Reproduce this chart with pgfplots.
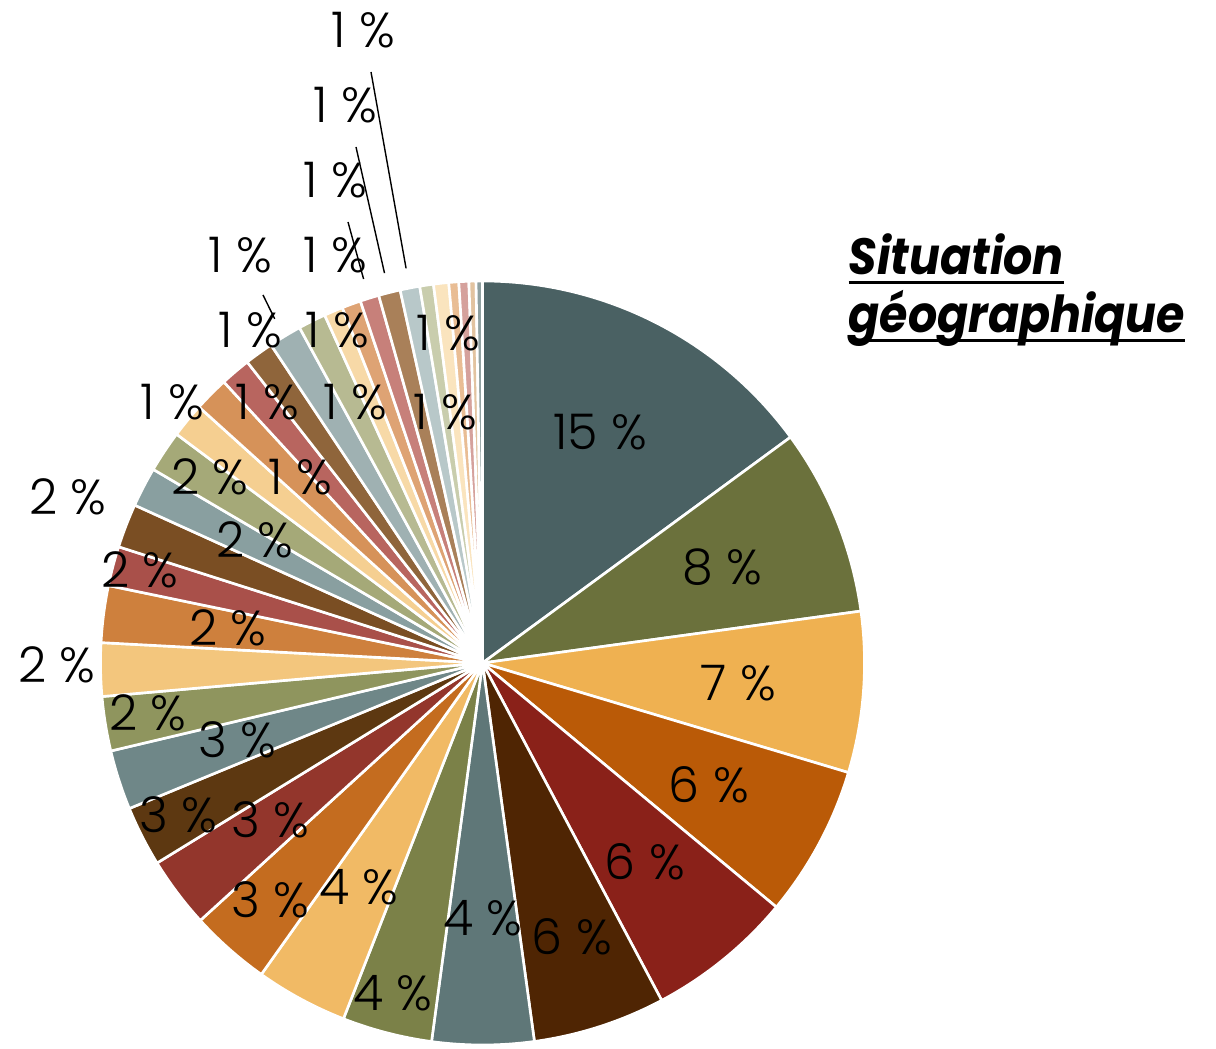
\documentclass[border=0pt]{standalone}
\usepackage{pgfplots}
\pgfplotsset{compat=1.18}
\usepackage{pgfplotstable}
\usepackage{graphicx}
\usepackage{fontspec}
\setmainfont{Poppins}
\newfontfamily\labfont{Poppins}[UprightFont={* Light}]

% share of each zone (%), slice colour, label centre, leader start (0 = no leader)
\pgfplotstableread{
v    col    lx  ly  sx  sy
14.93 4A6163 600 432 0   0
7.9  6B713C 722 567 0   0
6.8  EFB151 738 683 0   0
6.4  BA5A07 709 785 0   0
6.2  8A2119 645 862 0   0
5.6  4F2503 572 937 0   0
4.3  5F7778 483 918 0   0
3.8  7B8148 393 993 0   0
3.9  F1BA65 359 887 0   0
3.4  C46C1F 270 900 0   0
3.0  93362C 270 820 0   0
2.55 5D3811 178 815 0   0
2.52 6F8788 237 740 0   0
2.3  8F955E 148 713 0   0
2.25 F3C67D 57  665 0   0
2.4  CE803D 228 628 0   0
1.67 A9504A 140 570 0   0
1.86 7A4E23 68  497 0   0
1.68 899FA0 255 540 0   0
1.76 A5A978 210 477 0   0
1.47 F5CF91 172 402 0   0
1.47 D69259 300 477 0   0
1.28 B8655F 267 402 0   0
1.22 8F653B 250 330 0   0
1.39 9FB1B2 240 255 263 295
1.17 B7BA92 355 402 0   0
0.8  F7D9A7 337 330 0   0
0.8  DEA374 335 255 0   0
0.8  C7807A 335 180 348 222
0.92 A98059 345 105 356 147
0.83 B8C8C9 363 30  371 72
0.58 C9CDAD 445 412 0   0
0.64 FAE4BE 448 333 0   0
0.42 E9BD94 0   0   0   0
0.42 D5A19C 0   0   0   0
0.3  E2C3A0 0   0   0   0
0.27 8FA0A0 0   0   0   0
}\pietable

\newcommand\ul[1]{\setbox0=\hbox{#1}\rlap{\rule[-0.095cm]{\wd0}{0.03cm}}\box0}
\newcommand\titletext[1]{\scalebox{0.9}[1]{\ul{#1}}}

\begin{document}
\begin{tikzpicture}
\begin{axis}[
  scale only axis, width=12.16cm, height=10.49cm,
  xmin=0, xmax=1216, ymin=0, ymax=1049, y dir=reverse,
  hide axis, clip=false]
\addplot[draw=none] coordinates {(0,0) (1216,1049)};
\pgfplotsextra{
  \path (axis cs:0,0) rectangle (axis cs:1216,1049);
  \pgfplotstablegetrowsof{\pietable}
  \pgfmathtruncatemacro\lastrow{\pgfplotsretval-1}
  % wedges, clockwise from twelve o'clock
  \def\acc{0}
  \pgfplotsforeachungrouped \i in {0,...,\lastrow}{
    \pgfplotstablegetelem{\i}{v}\of\pietable \edef\val{\pgfplotsretval}
    \pgfplotstablegetelem{\i}{col}\of\pietable \edef\col{\pgfplotsretval}
    \definecolor{slc}{HTML}{\col}
    \pgfmathsetmacro\aS{90-3.6*\acc}
    \pgfmathsetmacro\aE{90-3.6*(\acc+\val)}
    \fill[slc, draw=white, line width=0.75pt, line join=round]
      (axis cs:482.5,663) -- ++(\aS:3.82cm)
      arc[start angle=\aS, end angle=\aE, radius=3.82cm] -- cycle;
    \pgfmathsetmacro\acc{\acc+\val}
  }
  % value labels and leader lines
  \def\acc{0}
  \pgfplotsforeachungrouped \i in {0,...,\lastrow}{
    \pgfplotstablegetelem{\i}{v}\of\pietable \edef\val{\pgfplotsretval}
    \pgfplotstablegetelem{\i}{lx}\of\pietable \edef\lx{\pgfplotsretval}
    \pgfplotstablegetelem{\i}{ly}\of\pietable \edef\ly{\pgfplotsretval}
    \pgfplotstablegetelem{\i}{sx}\of\pietable \edef\sx{\pgfplotsretval}
    \pgfplotstablegetelem{\i}{sy}\of\pietable \edef\sy{\pgfplotsretval}
    \pgfmathtruncatemacro\pct{round(\val)}
    \pgfmathsetmacro\mid{3.6*(\acc+\val/2)}
    \ifnum\pct>0
      \node[font=\labfont\fontsize{14}{16}\selectfont, inner sep=0pt]
        at (axis cs:\lx,\ly) {\pct~\%};
    \fi
    \pgfmathtruncatemacro\hasleader{\sx>0 ? 1 : 0}
    \ifnum\hasleader=1
      \pgfmathsetmacro\ex{482.5+402*sin(\mid)}
      \pgfmathsetmacro\ey{663-402*cos(\mid)}
      \draw[black, line width=0.4pt] (axis cs:\sx,\sy) -- (axis cs:\ex,\ey);
    \fi
    \pgfmathsetmacro\acc{\acc+\val}
  }
  % title
  \node[anchor=base west, inner sep=0pt,
        font=\fontsize{14.5}{18}\selectfont\bfseries\itshape]
    at (axis cs:848,275) {\titletext{Situation}};
  \node[anchor=base west, inner sep=0pt,
        font=\fontsize{14.5}{18}\selectfont\bfseries\itshape]
    at (axis cs:848,333) {\titletext{géographique}};
}
\end{axis}
\end{tikzpicture}
\end{document}
